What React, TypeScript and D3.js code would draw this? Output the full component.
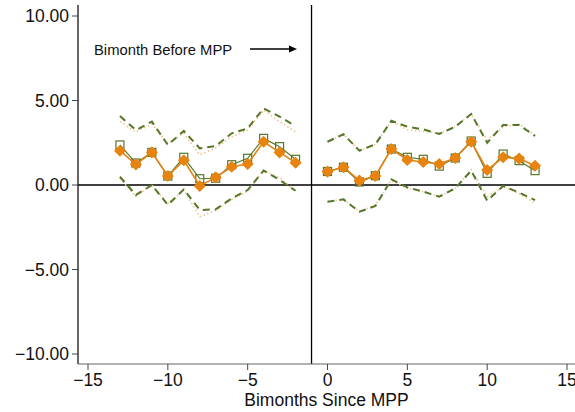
import * as d3 from "d3";

// bimonths relative to MPP
const preX = [-13, -12, -11, -10, -9, -8, -7, -6, -5, -4, -3, -2];
const postX = [0, 1, 2, 3, 4, 5, 6, 7, 8, 9, 10, 11, 12, 13];

// main estimate (orange diamonds)
const preEst = [2.03, 1.22, 1.93, 0.53, 1.46, -0.06, 0.45, 1.08, 1.24, 2.56, 1.93, 1.32];
const postEst = [0.79, 1.05, 0.26, 0.53, 2.13, 1.48, 1.36, 1.24, 1.6, 2.56, 0.89, 1.64, 1.56, 1.14];

// alternative estimate (hollow green squares)
const preAlt = [2.37, 1.3, 1.93, 0.53, 1.64, 0.37, 0.4, 1.2, 1.58, 2.76, 2.27, 1.52];
const postAlt = [0.8, 1.05, 0.18, 0.55, 2.13, 1.64, 1.52, 1.12, 1.6, 2.6, 0.69, 1.83, 1.44, 0.85];

// confidence bands, alternative (green dashed)
const preAltHi = [4.08, 3.25, 3.75, 2.37, 3.2, 2.17, 2.3, 3.06, 3.35, 4.54, 4.04, 3.49];
const preAltLo = [0.49, -0.59, 0.0, -1.18, -0.26, -1.48, -1.44, -0.79, -0.3, 0.85, 0.3, -0.34];
const postAltHi = [2.56, 3.0, 2.03, 2.41, 3.8, 3.45, 3.29, 3.02, 3.45, 4.2, 2.5, 3.55, 3.55, 2.9];
const postAltLo = [-0.99, -0.85, -1.58, -1.24, 0.33, -0.14, -0.39, -0.69, -0.2, 0.85, -0.93, -0.06, -0.45, -0.89];

// confidence bands, main (light orange dotted)
const preEstHi = [3.75, 3.15, 3.6, 2.47, 3.06, 1.78, 2.2, 2.86, 3.25, 4.44, 3.75, 3.15];
const preEstLo = [0.4, -0.67, 0.0, -1.1, -0.3, -1.87, -1.5, -0.85, -0.37, 0.89, 0.43, -0.37];
const postEstHi = [2.56, 3.0, 2.03, 2.41, 3.8, 3.27, 3.17, 3.06, 3.45, 4.2, 2.66, 3.45, 3.6, 2.96];
const postEstLo = [-0.99, -0.85, -1.58, -1.2, 0.28, -0.2, -0.4, -0.7, -0.2, 0.9, -0.69, -0.1, -0.5, -1.08];

const xTicks = [-15, -10, -5, 0, 5, 10, 15];
const yTicks = [-10, -5, 0, 5, 10];

const W = 575;
const H = 412;
const FONT = "'Liberation Sans', Arial, Helvetica, sans-serif";
const GREEN = "#55772a";
const ORANGE = "#e8830f";
const LIGHT = "#f2c28c";

export default function App() {
  const x = d3.scaleLinear().domain([-15, 15]).range([88, 567]);
  const y = d3.scaleLinear().domain([-10, 10]).range([354, 16]);
  const left = 78;
  const bottom = 364;
  const top = 5;

  const line = (xs: number[], ys: number[]) =>
    d3.line<number>().x((_, i) => x(xs[i])).y((v) => y(v))(ys) || "";

  const diamond = d3.symbol().type(d3.symbolDiamond2).size(64)() || "";

  const groups = [
    { xs: preX, est: preEst, alt: preAlt, ah: preAltHi, al: preAltLo, eh: preEstHi, el: preEstLo },
    { xs: postX, est: postEst, alt: postAlt, ah: postAltHi, al: postAltLo, eh: postEstHi, el: postEstLo },
  ];

  return (
    <svg width={W} height={H} style={{ position: "absolute", left: 0, top: 0, background: "#fff" }} fontFamily={FONT}>
      {/* reference lines */}
      <line x1={left} x2={W} y1={y(0)} y2={y(0)} stroke="#000" strokeWidth={1.3} />
      <line x1={x(-1)} x2={x(-1)} y1={top} y2={bottom} stroke="#000" strokeWidth={1.3} />

      {groups.map((g, k) => (
        <g key={k}>
          <path d={line(g.xs, g.eh)} fill="none" stroke={LIGHT} strokeWidth={1.6} strokeDasharray="1.5 2.5" />
          <path d={line(g.xs, g.el)} fill="none" stroke={LIGHT} strokeWidth={1.6} strokeDasharray="1.5 2.5" />
          <path d={line(g.xs, g.ah)} fill="none" stroke={GREEN} strokeWidth={2} strokeDasharray="7 5" />
          <path d={line(g.xs, g.al)} fill="none" stroke={GREEN} strokeWidth={2} strokeDasharray="7 5" />
          <path d={line(g.xs, g.alt)} fill="none" stroke={GREEN} strokeWidth={1.2} />
          {g.alt.map((v, i) => (
            <rect key={i} x={x(g.xs[i]) - 4} y={y(v) - 4} width={8} height={8} fill="none" stroke={GREEN} strokeWidth={1.2} />
          ))}
          <path d={line(g.xs, g.est)} fill="none" stroke={ORANGE} strokeWidth={1.6} />
          {g.est.map((v, i) => (
            <path key={i} d={diamond} transform={`translate(${x(g.xs[i])},${y(v)})`} fill={ORANGE} stroke={ORANGE} strokeWidth={1.5} strokeLinejoin="round" />
          ))}
        </g>
      ))}

      {/* y axis */}
      <line x1={left} x2={left} y1={top} y2={bottom} stroke="#000" strokeWidth={1.2} />
      {yTicks.map((t) => (
        <g key={t}>
          <line x1={left - 6} x2={left} y1={y(t)} y2={y(t)} stroke="#444" />
          <text x={69} y={y(t)} dy="0.36em" textAnchor="end" fontSize={17.5} fill="#111">
            {t < 0 ? "\u2212" + Math.abs(t).toFixed(2) : t.toFixed(2)}
          </text>
        </g>
      ))}

      {/* x axis */}
      <line x1={left} x2={W} y1={bottom} y2={bottom} stroke="#666" strokeWidth={1.2} />
      {xTicks.map((t) => (
        <g key={t}>
          <line x1={x(t)} x2={x(t)} y1={bottom} y2={bottom + 6} stroke="#444" />
          <text x={x(t)} y={386} textAnchor="middle" fontSize={17.5} fill="#111">
            {t < 0 ? "\u2212" + Math.abs(t) : String(t)}
          </text>
        </g>
      ))}
      <text x={x(0) - 1} y={406} textAnchor="middle" fontSize={17.5} fill="#111">
        Bimonths Since MPP
      </text>

      {/* annotation */}
      <text x={94} y={55} fontSize={14.8} fill="#111">Bimonth Before MPP</text>
      <line x1={250} x2={292} y1={49} y2={49} stroke="#000" strokeWidth={1.3} />
      <path d="M289,45.5 L297,49 L289,52.5 Z" fill="#000" />
    </svg>
  );
}
